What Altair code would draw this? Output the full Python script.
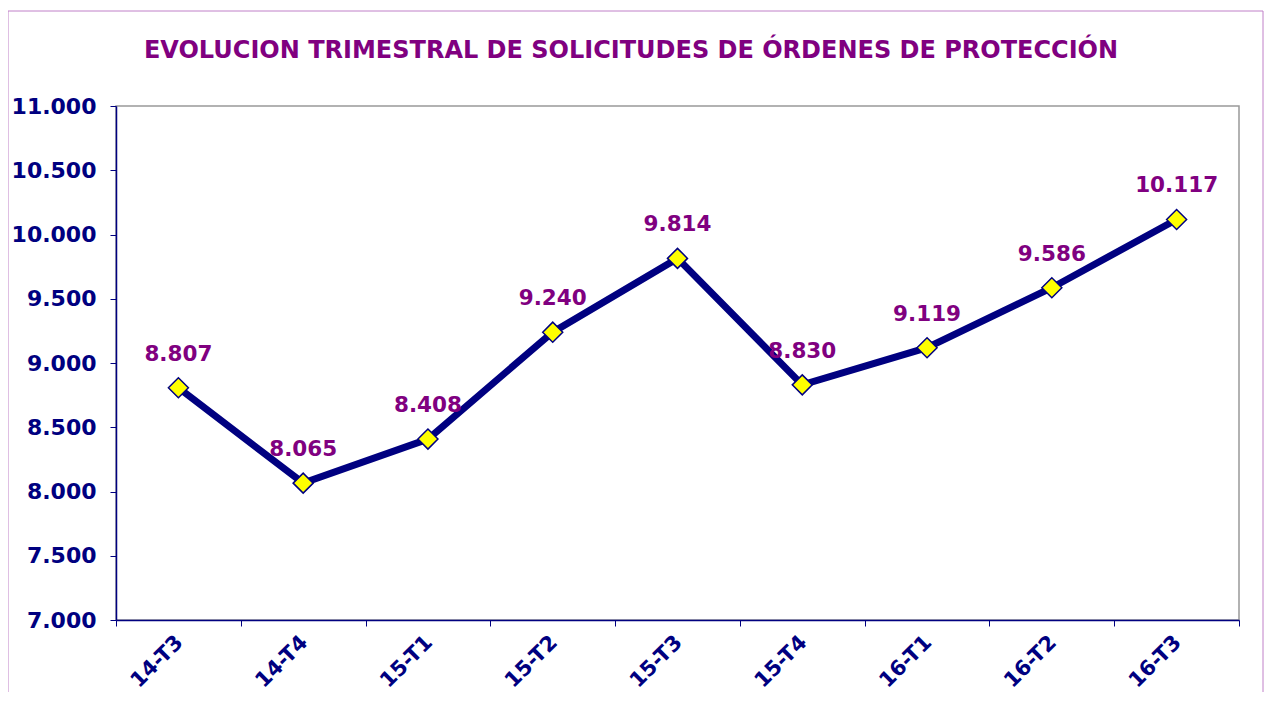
import altair as alt
import pandas as pd

quarters = ["14-T3", "14-T4", "15-T1", "15-T2", "15-T3", "15-T4", "16-T1", "16-T2", "16-T3"]
values = [8807, 8065, 8408, 9240, 9814, 8830, 9119, 9586, 10117]
labels = ["8.807", "8.065", "8.408", "9.240", "9.814", "8.830", "9.119", "9.586", "10.117"]
title_text = "EVOLUCION TRIMESTRAL DE SOLICITUDES DE ÓRDENES DE PROTECCIÓN"

df = pd.DataFrame({"q": quarters, "v": values, "lab": labels})

FONT = "DejaVu Sans"
NAVY = "#000080"
PURPLE = "#800080"

x = alt.X("q:N", sort=quarters, title=None,
          scale=alt.Scale(paddingInner=0, paddingOuter=0),
          axis=alt.Axis(labelAngle=-45, labelAlign="right", labelBaseline="middle",
                        labelFont=FONT, labelFontSize=21, labelFontWeight="bold",
                        labelColor=NAVY, domainColor=NAVY, domainWidth=1.5,
                        tickColor=NAVY, tickBand="extent", tickSize=6,
                        labelPadding=13, labelOffset=1, labelOverlap=False))
y = alt.Y("v:Q", title=None,
          scale=alt.Scale(domain=[7000, 11000], nice=False, zero=False),
          axis=alt.Axis(values=list(range(7000, 11001, 500)),
                        labelExpr="replace(format(datum.value, ',d'), ',', '.')",
                        labelFont=FONT, labelFontSize=22, labelFontWeight="bold",
                        labelColor=NAVY, domainColor=NAVY, domainWidth=1.5,
                        tickColor=NAVY, tickSize=6, grid=False, labelPadding=14))

base = alt.Chart(df)
one = "datum.q == '14-T3'"

frame = base.mark_rect(filled=False, stroke="#c080c8", strokeWidth=1).encode(
    x=alt.value(-108), x2=alt.value(1147), y=alt.value(-95), y2=alt.value(700)
).transform_filter(one)

title = base.mark_text(font=FONT, fontSize=24, fontWeight="bold", color=PURPLE,
                       baseline="alphabetic", align="center").encode(
    x=alt.value(515), y=alt.value(-48), text=alt.value(title_text)
).transform_filter(one)

line = base.mark_line(color=NAVY, strokeWidth=7).encode(x=x, y=y)
pts = base.mark_point(shape="diamond", size=400, filled=True, fill="#ffff00",
                      stroke=NAVY, strokeWidth=1.5, opacity=1).encode(x=x, y=y)
txt = base.mark_text(font=FONT, fontSize=21.5, fontWeight="bold", color=PURPLE,
                     baseline="alphabetic", dy=-27).encode(x=x, y=y, text="lab:N")

chart = alt.layer(frame, title, line, pts, txt).properties(
    width=1123, height=514,
    autosize=alt.AutoSizeParams(type="none"),
    padding={"left": 108, "top": 98, "right": 25, "bottom": 72},
).configure_view(stroke="#999999", strokeWidth=1.5)

chart.save("out.html", embed_options={"renderer": "svg", "actions": False})
